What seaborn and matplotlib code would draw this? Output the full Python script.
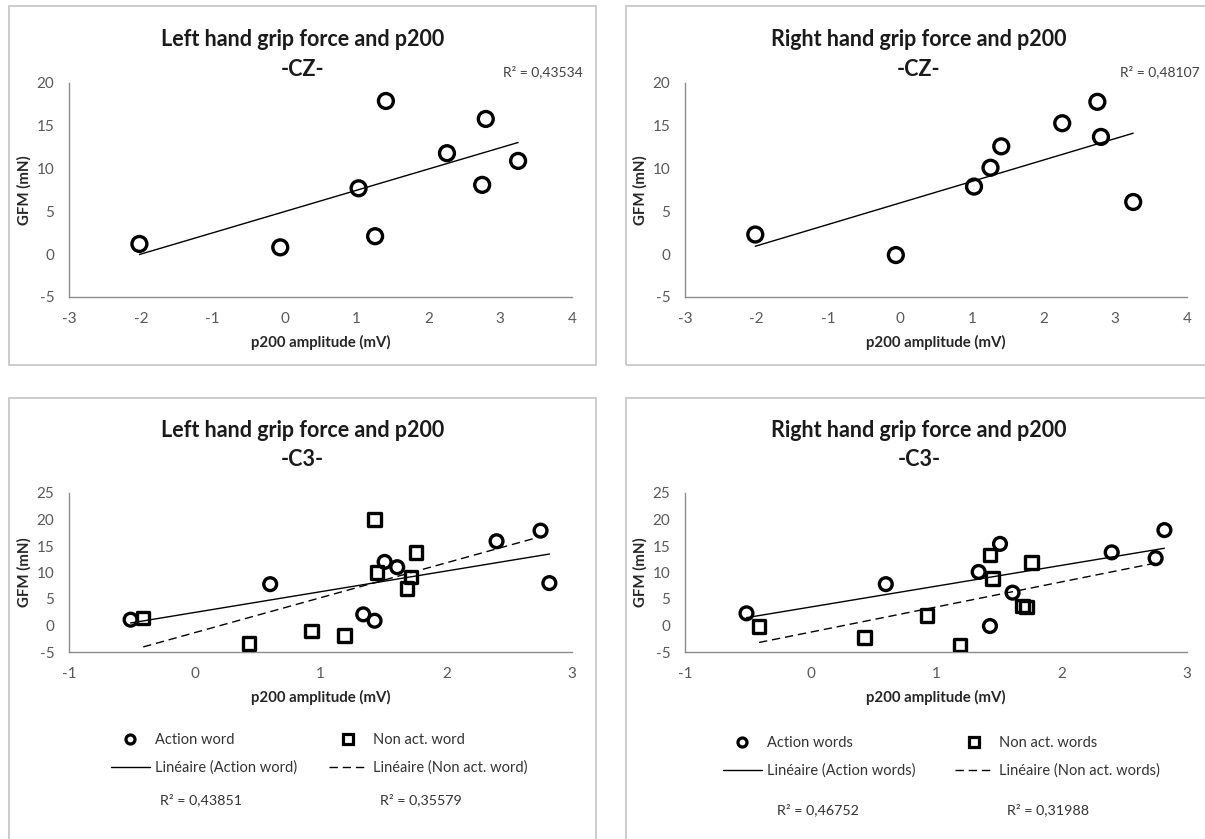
import numpy as np
import matplotlib
matplotlib.use("Agg")
import matplotlib.pyplot as plt
from matplotlib.lines import Line2D
from matplotlib.patches import Rectangle
import seaborn as sns

W, H = 1205, 839

# --- data ---
# CZ electrode: p200 amplitude (mV) and grip force (mN)
cz_x = [-2.02, -0.06, 1.03, 1.26, 1.41, 2.26, 2.75, 2.80, 3.25]
cz_left_y = [1.2, 0.8, 7.7, 2.1, 17.9, 11.8, 8.1, 15.8, 10.9]
cz_right_y = [2.3, -0.1, 7.9, 10.1, 12.6, 15.3, 17.8, 13.7, 6.1]
cz_left_r2 = "R² = 0,43534"
cz_right_r2 = "R² = 0,48107"

# C3 electrode: action words vs non action words
c3_act_x = [-0.51, 0.60, 1.34, 1.43, 1.51, 1.61, 2.40, 2.75, 2.82]
c3_left_act_y = [1.1, 7.8, 2.1, 0.9, 12.0, 11.0, 15.9, 17.9, 8.0]
c3_right_act_y = [2.3, 7.8, 10.1, -0.1, 15.4, 6.2, 13.8, 12.7, 18.0]
c3_non_x = [-0.41, 0.43, 0.93, 1.19, 1.43, 1.45, 1.69, 1.72, 1.76]
c3_left_non_y = [1.4, -3.4, -1.0, -1.9, 20.0, 10.0, 7.0, 9.1, 13.8]
c3_right_non_y = [-0.2, -2.3, 1.9, -3.7, 13.3, 8.9, 3.7, 3.5, 11.9]
c3_left_r2 = ["R² = 0,43851", "R² = 0,35579"]
c3_right_r2 = ["R² = 0,46752", "R² = 0,31988"]
non_forecast = 1.0  # excel trendline "forward" period on the non act. series

sns.set_theme(style="white")
plt.rcParams['font.family'] = ['Lato', 'DejaVu Sans']
plt.rcParams['axes.unicode_minus'] = False

fig = plt.figure(figsize=(W / 100, H / 100), dpi=100)


def fx(px):
    return px / W


def fy(py):
    return 1 - py / H


def add_axes(x0, y0, x1, y1):
    return fig.add_axes([fx(x0), fy(y1), (x1 - x0) / W, (y1 - y0) / H])


def panel_box(x0, y0, x1, y1):
    fig.patches.append(Rectangle((fx(x0), fy(y1)), (x1 - x0) / W, (y1 - y0) / H,
                                 transform=fig.transFigure, fill=False,
                                 ec='#c8c8c8', lw=1.3))


def style_axes(ax, xlim, ylim, ystep):
    ax.set_xlim(xlim)
    ax.set_ylim(ylim)
    ax.set_xticks(np.arange(xlim[0], xlim[1] + 1, 1))
    ax.set_yticks(np.arange(ylim[0], ylim[1] + ystep, ystep))
    sns.despine(ax=ax)
    for s in ['left', 'bottom']:
        ax.spines[s].set_color('#8c8c8c')
        ax.spines[s].set_linewidth(1.0)
    ax.tick_params(direction='inout', length=7, width=1.0, color='#8c8c8c',
                   labelcolor='#595959', labelsize=11)
    ax.tick_params(axis='x', pad=7)
    ax.tick_params(axis='y', pad=7)
    ax.set_xlabel('p200 amplitude (mV)', fontweight='bold', fontsize=10.8,
                  color='#262626', labelpad=7)
    ax.set_ylabel('GFM (mN)', fontweight='bold', fontsize=10.8,
                  color='#262626', labelpad=4)
    ax.grid(False)
    ax.set_facecolor('none')


def trend(ax, x, y, forward=0.0, ls='-'):
    k, b = np.polyfit(x, y, 1)
    xs = np.array([min(x), max(x) + forward])
    ax.plot(xs, k * xs + b, color='black', lw=1.0, ls=ls,
            dashes=(6, 3.5) if ls == '--' else (None, None), zorder=3)


def scatter(ax, x, y, marker, s):
    sns.scatterplot(x=x, y=y, ax=ax, marker=marker, s=s, facecolor='none',
                    edgecolor='black', linewidth=2.4, zorder=4)


def title(cx, y1, y2, line1, line2):
    fig.text(fx(cx), fy(y1), line1, ha='center', va='center', fontsize=15.5,
             fontweight='bold', color='#1a1a1a')
    fig.text(fx(cx), fy(y2), line2, ha='center', va='center', fontsize=15.5,
             fontweight='bold', color='#1a1a1a')


def legend_col(handles, labels, x_px, y_px):
    fig.legend(handles, labels, loc='center left',
               bbox_to_anchor=(fx(x_px), fy(y_px)),
               bbox_transform=fig.transFigure, frameon=False,
               borderpad=0, borderaxespad=0, handlelength=2.65,
               handletextpad=0.4, labelspacing=0.9, fontsize=10.5,
               labelcolor='#333333')


# panel frames
panel_box(9, 6, 596, 365)
panel_box(626, 6, 1213, 365)
panel_box(9, 398, 596, 845)
panel_box(626, 398, 1213, 845)

# --- top left: left hand, CZ ---
ax1 = add_axes(69, 83, 572, 297)
scatter(ax1, cz_x, cz_left_y, 'o', 115)
trend(ax1, cz_x, cz_left_y)
style_axes(ax1, (-3, 4), (-5, 20), 5)
title(302.5, 40, 70, 'Left hand grip force and p200', '-CZ-')
fig.text(fx(583), fy(72), cz_left_r2, ha='right', va='center', fontsize=10,
         color='#404040')

# --- top right: right hand, CZ ---
ax2 = add_axes(685, 83, 1187, 297)
scatter(ax2, cz_x, cz_right_y, 'o', 115)
trend(ax2, cz_x, cz_right_y)
style_axes(ax2, (-3, 4), (-5, 20), 5)
title(919, 40, 70, 'Right hand grip force and p200', '-CZ-')
fig.text(fx(1200), fy(72), cz_right_r2, ha='right', va='center', fontsize=10,
         color='#404040')

# legend handles for the C3 panels
h_circle = Line2D([], [], marker='o', ls='none', mfc='none', mec='black', mew=2.3, ms=6.5)
h_square = Line2D([], [], marker='s', ls='none', mfc='none', mec='black', mew=2.3, ms=6.5)
h_solid = Line2D([], [], color='black', lw=1.0)
h_dash = Line2D([], [], color='black', lw=1.0, ls='--', dashes=(6, 3.5))

# --- bottom left: left hand, C3 ---
ax3 = add_axes(69, 493, 572, 652)
scatter(ax3, c3_act_x, c3_left_act_y, 'o', 85)
scatter(ax3, c3_non_x, c3_left_non_y, 's', 80)
trend(ax3, c3_act_x, c3_left_act_y)
trend(ax3, c3_non_x, c3_left_non_y, forward=non_forecast, ls='--')
style_axes(ax3, (-1, 3), (-5, 25), 5)
title(302.5, 430, 460, 'Left hand grip force and p200', '-C3-')
legend_col([h_circle, h_solid], ['Action word', 'Linéaire (Action word)'], 111, 754)
legend_col([h_square, h_dash], ['Non act. word', 'Linéaire (Non act. word)'], 329, 754)
fig.text(fx(160), fy(800), c3_left_r2[0], ha='left', va='center', fontsize=10.3, color='#333333')
fig.text(fx(380), fy(800), c3_left_r2[1], ha='left', va='center', fontsize=10.3, color='#333333')

# --- bottom right: right hand, C3 ---
ax4 = add_axes(685, 493, 1187, 652)
scatter(ax4, c3_act_x, c3_right_act_y, 'o', 85)
scatter(ax4, c3_non_x, c3_right_non_y, 's', 80)
trend(ax4, c3_act_x, c3_right_act_y)
trend(ax4, c3_non_x, c3_right_non_y, forward=non_forecast, ls='--')
style_axes(ax4, (-1, 3), (-5, 25), 5)
title(919, 430, 460, 'Right hand grip force and p200', '-C3-')
legend_col([h_circle, h_solid], ['Action words', 'Linéaire (Action words)'], 723, 757)
legend_col([h_square, h_dash], ['Non act. words', 'Linéaire (Non act. words)'], 955, 757)
fig.text(fx(777), fy(810), c3_right_r2[0], ha='left', va='center', fontsize=10.3, color='#333333')
fig.text(fx(1007), fy(810), c3_right_r2[1], ha='left', va='center', fontsize=10.3, color='#333333')

fig.savefig("out.png", dpi=100, facecolor='white')
